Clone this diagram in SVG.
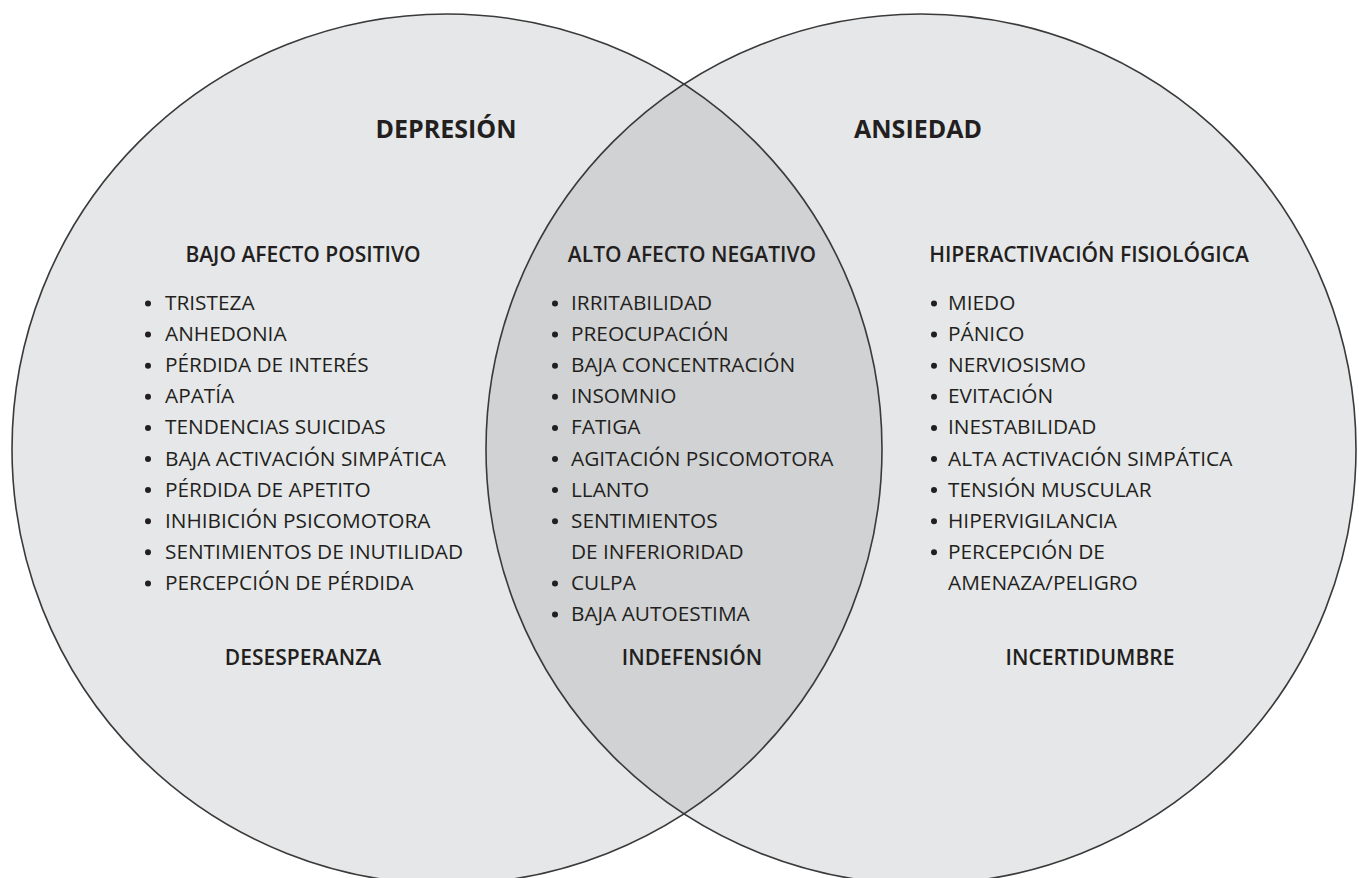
<svg xmlns="http://www.w3.org/2000/svg" width="1359" height="878" viewBox="0 0 1359 878">
<style>
  .circ { fill: #e6e7e8; }
  .lens { fill: #d1d2d4; }
  .edge { fill: none; stroke: #3a3a3a; stroke-width: 1.6; }
  text { font-family: "Open Sans", "Noto Sans", "Liberation Sans", sans-serif; fill: #231f20; }
  .title { font-size: 25px; font-weight: 700; text-anchor: middle; }
  .head { font-size: 21px; font-weight: 600; text-anchor: middle; }
  .item { font-size: 20.8px; font-weight: 400; }
  .dot { fill: #231f20; }
</style>
<defs>
  <clipPath id="clipR"><circle cx="921" cy="449" r="435"/></clipPath>
</defs>
<rect width="1359" height="878" fill="#ffffff"/>
<g id="circles">
  <circle class="circ" cx="447" cy="449" r="435"/>
  <circle class="circ" cx="921" cy="449" r="435"/>
  <circle class="lens" cx="447" cy="449" r="435" clip-path="url(#clipR)"/>
  <circle class="edge" cx="447" cy="449" r="435"/>
  <circle class="edge" cx="921" cy="449" r="435"/>
</g>
<g id="depresion">
  <text class="title" x="446" y="138">DEPRESIÓN</text>
  <text class="head" x="303" y="262">BAJO AFECTO POSITIVO</text>
  <g class="dot">
    <circle cx="148" cy="303.5" r="3"/><circle cx="148" cy="334.6" r="3"/><circle cx="148" cy="365.7" r="3"/>
    <circle cx="148" cy="396.8" r="3"/><circle cx="148" cy="427.9" r="3"/><circle cx="148" cy="459" r="3"/>
    <circle cx="148" cy="490.1" r="3"/><circle cx="148" cy="521.2" r="3"/><circle cx="148" cy="552.3" r="3"/>
    <circle cx="148" cy="583.4" r="3"/>
  </g>
  <text class="item" x="165" y="310">TRISTEZA</text>
  <text class="item" x="165" y="341.1">ANHEDONIA</text>
  <text class="item" x="165" y="372.2">PÉRDIDA DE INTERÉS</text>
  <text class="item" x="165" y="403.3">APATÍA</text>
  <text class="item" x="165" y="434.4">TENDENCIAS SUICIDAS</text>
  <text class="item" x="165" y="465.5">BAJA ACTIVACIÓN SIMPÁTICA</text>
  <text class="item" x="165" y="496.6">PÉRDIDA DE APETITO</text>
  <text class="item" x="165" y="527.7">INHIBICIÓN PSICOMOTORA</text>
  <text class="item" x="165" y="558.8">SENTIMIENTOS DE INUTILIDAD</text>
  <text class="item" x="165" y="589.9">PERCEPCIÓN DE PÉRDIDA</text>
  <text class="head" x="303" y="665">DESESPERANZA</text>
</g>
<g id="comun">
  <text class="head" x="692" y="262">ALTO AFECTO NEGATIVO</text>
  <g class="dot">
    <circle cx="555" cy="303.5" r="3"/><circle cx="555" cy="334.6" r="3"/><circle cx="555" cy="365.7" r="3"/>
    <circle cx="555" cy="396.8" r="3"/><circle cx="555" cy="427.9" r="3"/><circle cx="555" cy="459" r="3"/>
    <circle cx="555" cy="490.1" r="3"/><circle cx="555" cy="521.2" r="3"/>
    <circle cx="555" cy="583.4" r="3"/><circle cx="555" cy="614.5" r="3"/>
  </g>
  <text class="item" x="571" y="310">IRRITABILIDAD</text>
  <text class="item" x="571" y="341.1">PREOCUPACIÓN</text>
  <text class="item" x="571" y="372.2">BAJA CONCENTRACIÓN</text>
  <text class="item" x="571" y="403.3">INSOMNIO</text>
  <text class="item" x="571" y="434.4">FATIGA</text>
  <text class="item" x="571" y="465.5">AGITACIÓN PSICOMOTORA</text>
  <text class="item" x="571" y="496.6">LLANTO</text>
  <text class="item" x="571" y="527.7">SENTIMIENTOS</text>
  <text class="item" x="571" y="558.8">DE INFERIORIDAD</text>
  <text class="item" x="571" y="589.9">CULPA</text>
  <text class="item" x="571" y="621">BAJA AUTOESTIMA</text>
  <text class="head" x="692" y="665">INDEFENSIÓN</text>
</g>
<g id="ansiedad">
  <text class="title" x="918" y="138">ANSIEDAD</text>
  <text class="head" x="1089" y="262">HIPERACTIVACIÓN FISIOLÓGICA</text>
  <g class="dot">
    <circle cx="934" cy="303.5" r="3"/><circle cx="934" cy="334.6" r="3"/><circle cx="934" cy="365.7" r="3"/>
    <circle cx="934" cy="396.8" r="3"/><circle cx="934" cy="427.9" r="3"/><circle cx="934" cy="459" r="3"/>
    <circle cx="934" cy="490.1" r="3"/><circle cx="934" cy="521.2" r="3"/><circle cx="934" cy="552.3" r="3"/>
  </g>
  <text class="item" x="948" y="310">MIEDO</text>
  <text class="item" x="948" y="341.1">PÁNICO</text>
  <text class="item" x="948" y="372.2">NERVIOSISMO</text>
  <text class="item" x="948" y="403.3">EVITACIÓN</text>
  <text class="item" x="948" y="434.4">INESTABILIDAD</text>
  <text class="item" x="948" y="465.5">ALTA ACTIVACIÓN SIMPÁTICA</text>
  <text class="item" x="948" y="496.6">TENSIÓN MUSCULAR</text>
  <text class="item" x="948" y="527.7">HIPERVIGILANCIA</text>
  <text class="item" x="948" y="558.8">PERCEPCIÓN DE</text>
  <text class="item" x="948" y="589.9">AMENAZA/PELIGRO</text>
  <text class="head" x="1090" y="665">INCERTIDUMBRE</text>
</g>
</svg>
